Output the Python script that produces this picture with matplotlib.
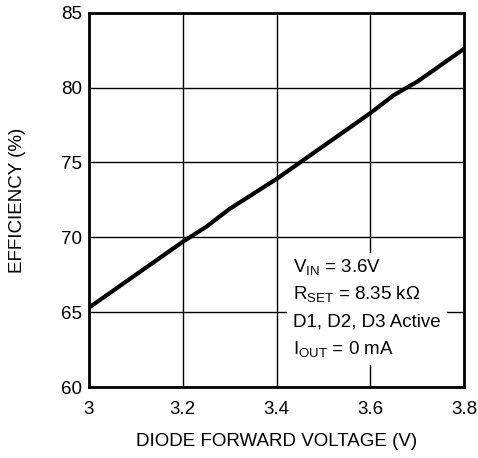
import matplotlib.pyplot as plt
from matplotlib.patches import Rectangle

plt.rcParams['font.family'] = ['Liberation Sans', 'DejaVu Sans']
plt.rcParams['mathtext.fontset'] = 'custom'
plt.rcParams['mathtext.rm'] = 'Liberation Sans'

# diode forward voltage (V) vs efficiency (%)
vf = [3.0, 3.1, 3.2, 3.25, 3.3, 3.4, 3.5, 3.6, 3.65, 3.7, 3.8]
eff = [65.3, 67.5, 69.7, 70.7, 71.9, 73.9, 76.1, 78.3, 79.5, 80.4, 82.6]

xticks = [3, 3.2, 3.4, 3.6, 3.8]
xticklabels = ['3', '3.2', '3.4', '3.6', '3.8']
yticks = [60, 65, 70, 75, 80, 85]

notes = [r'V$_\mathregular{IN}$ = 3.6V',
         r'R$_\mathregular{SET}$ = 8.35 kΩ',
         'D1, D2, D3 Active',
         r'I$_\mathregular{OUT}$ = 0 mA']

fs = 13.5
fig = plt.figure(figsize=(4.78, 4.58), dpi=100)
ax = fig.add_axes([0.186, 0.155, 0.785, 0.817])

ax.plot(vf, eff, color='black', lw=3, solid_capstyle='round', zorder=4)

ax.set_xlim(3, 3.8)
ax.set_ylim(60, 85)
ax.set_xticks(xticks)
ax.set_xticklabels(xticklabels)
ax.set_yticks(yticks)
ax.tick_params(length=0, labelsize=fs)
ax.tick_params(axis='x', pad=10)
ax.tick_params(axis='y', pad=5)
ax.grid(True, color='black', lw=1)
for s in ax.spines.values():
    s.set_linewidth(2)
    s.set_zorder(5)

ax.set_xlabel('DIODE FORWARD VOLTAGE (V)', fontsize=fs, labelpad=11)
ax.set_ylabel('EFFICIENCY (%)', fontsize=fs, labelpad=25)

# white box behind the notes
ax.add_patch(Rectangle((0.528, 0.059), 0.427, 0.30, transform=ax.transAxes,
                       facecolor='white', edgecolor='none', zorder=3))
ys = [0.318, 0.246, 0.174, 0.099]
for t, y in zip(notes, ys):
    ax.text(0.544, y, t, transform=ax.transAxes, fontsize=fs,
            va='center', ha='left', zorder=4)

fig.savefig('out.png', dpi=100)
